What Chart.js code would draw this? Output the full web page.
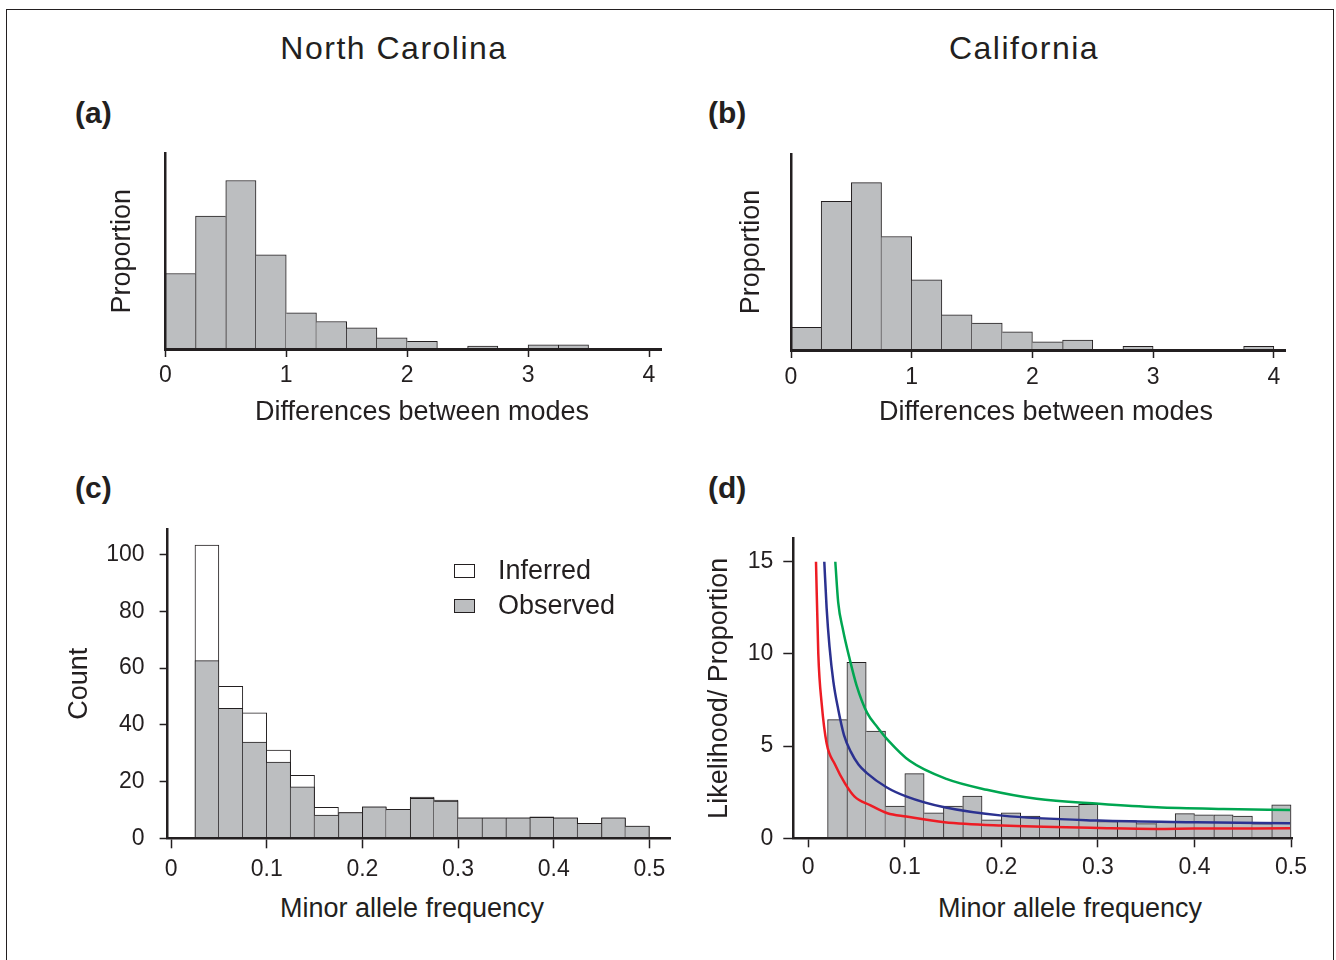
<!DOCTYPE html>
<html>
<head>
<meta charset="utf-8">
<script src="https://cdn.jsdelivr.net/npm/chart.js@4.4.1/dist/chart.umd.min.js"></script>
<style>
  html, body { margin: 0; padding: 0; background: #fff; overflow: hidden; }
  body { width: 1336px; height: 960px; position: relative; font-family: "Liberation Sans", Arial, sans-serif; color: #231f20; }
  .frame { position: absolute; left: 6px; top: 9px; width: 1326px; height: 1000px; border: 1px solid #231f20; }
  .txt { position: absolute; white-space: nowrap; line-height: 1; transform: translate(-50%, -50%); }
  .state { font-size: 32px; letter-spacing: 1.5px; }
  .tag { font-size: 30px; font-weight: bold; transform: translate(0, -50%); }
  .xlab { font-size: 27px; }
  canvas { position: absolute; }
</style>
</head>
<body>
<div class="frame"></div>

<div class="txt state" style="left:394px;top:48px">North Carolina</div>
<div class="txt state" style="left:1024px;top:48px">California</div>
<div class="txt tag" style="left:75px;top:113px">(a)</div>
<div class="txt tag" style="left:708px;top:113px">(b)</div>
<div class="txt tag" style="left:75px;top:488px">(c)</div>
<div class="txt tag" style="left:708px;top:488px">(d)</div>

<canvas id="chartA" width="640" height="260" style="left:40px;top:140px"></canvas>
<canvas id="chartB" width="630" height="260" style="left:690px;top:140px"></canvas>
<canvas id="chartC" width="640" height="380" style="left:40px;top:510px"></canvas>
<canvas id="chartD" width="630" height="380" style="left:690px;top:510px"></canvas>

<div class="txt xlab" style="left:422px;top:411px">Differences between modes</div>
<div class="txt xlab" style="left:1046px;top:411px">Differences between modes</div>
<div class="txt xlab" style="left:412px;top:908px">Minor allele frequency</div>
<div class="txt xlab" style="left:1070px;top:908px">Minor allele frequency</div>

<script>
const INK = '#231f20';
const BAR_GRAY = '#bcbec0';
const FONT = '"Liberation Sans", Arial, Helvetica, sans-serif';
const TICK_SIZE = 23;

// (a) / (b): differences between modes, bins of width 0.25 (centres)
const modeBins = [0.125, 0.375, 0.625, 0.875, 1.125, 1.375, 1.625, 1.875,
                  2.125, 2.375, 2.625, 2.875, 3.125, 3.375, 3.625, 3.875];
const propNC = [0.129, 0.227, 0.288, 0.161, 0.062, 0.047, 0.036, 0.019,
                0.013, 0, 0.005, 0, 0.007, 0.007, 0, 0];
const propCA = [0.036, 0.237, 0.267, 0.181, 0.112, 0.056, 0.043, 0.029,
                0.013, 0.016, 0, 0.006, 0, 0, 0, 0.006];
const modeTicks = [0, 1, 2, 3, 4];
const modeTickLabels = ['0', '1', '2', '3', '4'];

// (c): minor allele frequency counts, North Carolina, bins of width 0.025
const mafBinsNC = [0.0375, 0.0625, 0.0875, 0.1125, 0.1375, 0.1625, 0.1875, 0.2125,
                   0.2375, 0.2625, 0.2875, 0.3125, 0.3375, 0.3625, 0.3875, 0.4125,
                   0.4375, 0.4625, 0.4875];
const observedNC = [62.6, 45.8, 33.9, 26.9, 18.1, 8.2, 9.1, 11.1, 10.2, 14.1,
                    13.1, 7.2, 7.2, 7.2, 7.4, 7.2, 5.3, 7.2, 4.3];
const inferredNC = [103.3, 53.6, 44.2, 31.1, 22.2, 10.9, 9.1, 11.1, 10.2, 14.5,
                    13.5, 7.2, 7.2, 7.2, 7.6, 7.2, 5.3, 7.2, 4.3];
const countTicks = [0, 20, 40, 60, 80, 100];
const countTickLabels = ['0', '20', '40', '60', '80', '100'];

// (d): California, proportion per bin of width 0.02 plus likelihood curves
const mafBinsCA = [0.03, 0.05, 0.07, 0.09, 0.11, 0.13, 0.15, 0.17, 0.19, 0.21, 0.23, 0.25,
                   0.27, 0.29, 0.31, 0.33, 0.35, 0.37, 0.39, 0.41, 0.43, 0.45, 0.47, 0.49];
const propMafCA = [6.44, 9.55, 5.82, 1.75, 3.51, 1.38, 1.75, 2.29, 1.0, 1.38, 1.2, 1.09,
                   1.75, 1.84, 0.91, 0.96, 0.8, 0.86, 1.34, 1.27, 1.27, 1.2, 0.8, 1.82];
const curveGreen = [[0.028, 15], [0.031, 12.8], [0.036, 11.3], [0.043, 9.7], [0.05, 8.3],
                    [0.061, 6.8], [0.072, 6.0], [0.083, 5.3], [0.105, 4.2], [0.143, 3.22],
                    [0.185, 2.63], [0.2365, 2.14], [0.301, 1.87], [0.361, 1.68], [0.43, 1.59],
                    [0.499, 1.54]];
const curveBlue = [[0.0166, 15], [0.019, 12.5], [0.022, 10.4], [0.026, 8.5], [0.031, 7.0],
                   [0.037, 5.6], [0.044, 4.7], [0.052, 4.0], [0.0604, 3.55], [0.081, 2.77],
                   [0.102, 2.26], [0.141, 1.68], [0.201, 1.23], [0.301, 0.96], [0.402, 0.87],
                   [0.499, 0.82]];
const curveRed = [[0.008, 15], [0.0104, 10.0], [0.0139, 7.3], [0.019, 5.15], [0.0277, 4.0],
                  [0.038, 2.98], [0.048, 2.26], [0.064, 1.8], [0.082, 1.36], [0.1015, 1.18],
                  [0.141, 0.87], [0.201, 0.69], [0.301, 0.56], [0.36, 0.51], [0.40, 0.53],
                  [0.499, 0.54]];
const likeTicks = [0, 5, 10, 15];
const likeTickLabels = ['0', '5', '10', '15'];
const mafTicks = [0, 0.1, 0.2, 0.3, 0.4, 0.5];
const mafTickLabels = ['0', '0.1', '0.2', '0.3', '0.4', '0.5'];

// histogram outline: one line per shared edge, drawn by the taller bar
function edgeBorders(values) {
  return (c) => {
    const i = c.dataIndex, v = values[i], prev = values[i - 1], next = values[i + 1];
    return {
      top: 1, bottom: 0,
      left: prev === undefined || prev <= v ? 1 : 0,
      right: next === undefined || next < v ? 1 : 0
    };
  };
}

function zeroPadding(s) {
  s.paddingLeft = 0; s.paddingRight = 0; s.paddingTop = 0; s.paddingBottom = 0;
}

function xScale(o) {
  return {
    type: 'linear', position: 'bottom', min: o.min, max: o.max, offset: false,
    afterBuildTicks: (s) => { s.ticks = o.ticks.map(v => ({ value: v })); },
    afterFit: (s) => { s.height = o.height; zeroPadding(s); },
    ticks: {
      autoSkip: false, maxRotation: 0, padding: o.pad, color: INK, z: 2,
      font: { family: FONT, size: TICK_SIZE },
      callback: (v, i) => o.labels[i]
    },
    grid: { display: true, drawOnChartArea: false, offset: false, tickLength: o.tickLen,
            tickWidth: 1.5, tickColor: INK, z: 2 },
    border: { display: true, color: INK, width: o.lineW, z: 2 }
  };
}

function yScale(o) {
  const s = {
    type: 'linear', position: 'left', min: 0, max: o.max,
    afterFit: (sc) => { sc.width = o.width; zeroPadding(sc); },
    title: {
      display: true, text: o.title, color: INK,
      font: { family: FONT, size: 27 }, padding: { top: o.titlePad, bottom: 0 }
    },
    border: { display: true, color: INK, width: 2.5, z: 2 }
  };
  if (o.ticks) {
    s.afterBuildTicks = (sc) => { sc.ticks = o.ticks.map(v => ({ value: v })); };
    s.ticks = { padding: o.pad, color: INK, z: 2, font: { family: FONT, size: TICK_SIZE },
                callback: (v, i) => o.labels[i] };
    s.grid = { display: true, drawOnChartArea: false, tickLength: o.tickLen, tickWidth: 1.5,
               tickColor: INK, z: 2 };
  } else {
    s.ticks = { display: false };
    s.grid = { display: false };
  }
  return s;
}

function baseOptions(padding, scales, extraPlugins) {
  return {
    responsive: false,
    animation: false,
    events: [],
    layout: { padding },
    scales,
    plugins: Object.assign({ legend: { display: false }, tooltip: { enabled: false } }, extraPlugins || {})
  };
}

function histDataset(label, bins, values, fill, order) {
  return {
    type: 'bar', label, order,
    data: bins.map((b, i) => ({ x: b, y: values[i] })),
    backgroundColor: fill,
    borderColor: INK,
    borderWidth: edgeBorders(values),
    borderSkipped: 'start',
    barPercentage: 1, categoryPercentage: 1, grouped: false
  };
}

// boxes-and-labels legend drawn inside the plot area of (c)
const boxLegend = {
  id: 'boxLegend',
  afterDatasetsDraw(chart, args, opts) {
    if (!opts.items) return;
    const ctx = chart.ctx;
    ctx.save();
    ctx.font = '27px ' + FONT;
    ctx.textBaseline = 'middle';
    ctx.textAlign = 'left';
    opts.items.forEach((dsIndex, row) => {
      const ds = chart.data.datasets[dsIndex];
      const y = opts.y + row * opts.rowGap;
      ctx.fillStyle = ds.backgroundColor;
      ctx.fillRect(opts.x, y, opts.boxW, opts.boxH);
      ctx.strokeStyle = INK;
      ctx.lineWidth = 1;
      ctx.strokeRect(opts.x + 0.5, y + 0.5, opts.boxW - 1, opts.boxH - 1);
      ctx.fillStyle = INK;
      ctx.fillText(ds.label, opts.textX, y + opts.boxH / 2 + 0.5);
    });
    ctx.restore();
  }
};

// (a) North Carolina
new Chart(document.getElementById('chartA'), {
  type: 'bar',
  data: { datasets: [histDataset('Proportion', modeBins, propNC, BAR_GRAY, 0)] },
  options: baseOptions({ top: 13.3, right: 18.9, bottom: 0, left: 0 }, {
    x: xScale({ min: 0, max: 4.1, ticks: modeTicks, labels: modeTickLabels, height: 51, pad: 4.4, tickLen: 8, lineW: 3 }),
    y: yScale({ max: 0.3345, width: 125.3, title: 'Proportion', titlePad: 66.8 })
  })
});

// (b) California
new Chart(document.getElementById('chartB'), {
  type: 'bar',
  data: { datasets: [histDataset('Proportion', modeBins, propCA, BAR_GRAY, 0)] },
  options: baseOptions({ top: 14, right: 34.1, bottom: 0, left: 0 }, {
    x: xScale({ min: 0, max: 4.1, ticks: modeTicks, labels: modeTickLabels, height: 50, pad: 5.4, tickLen: 8, lineW: 3 }),
    y: yScale({ max: 0.3126, width: 101, title: 'Proportion', titlePad: 45.8 })
  })
});

// (c) North Carolina, observed vs inferred counts
new Chart(document.getElementById('chartC'), {
  type: 'bar',
  data: {
    datasets: [
      histDataset('Observed', mafBinsNC, observedNC, BAR_GRAY, 0),
      histDataset('Inferred', mafBinsNC, inferredNC, '#ffffff', 1)
    ]
  },
  options: baseOptions({ top: 19.3, right: 9.4, bottom: 0, left: 0 }, {
    x: xScale({ min: -0.0036, max: 0.5222, ticks: mafTicks, labels: mafTickLabels, height: 51.7, pad: 7.4, tickLen: 10, lineW: 2.5 }),
    y: yScale({ max: 108.9, width: 127.6, title: 'Count', titlePad: 23.8,
                ticks: countTicks, labels: countTickLabels, pad: 15, tickLen: 8 })
  }, {
    boxLegend: { items: [1, 0], x: 414, y: 54, boxW: 21, boxH: 14, rowGap: 35, textX: 458 }
  }),
  plugins: [boxLegend]
});

// (d) California, proportion with likelihood curves
function curveDataset(label, pts, color) {
  return {
    type: 'line', label, order: 0,
    data: pts.map(p => ({ x: p[0], y: p[1] })),
    borderColor: color, borderWidth: 2.5, pointRadius: 0,
    cubicInterpolationMode: 'monotone', fill: false
  };
}

new Chart(document.getElementById('chartD'), {
  type: 'bar',
  data: {
    datasets: [
      histDataset('Proportion', mafBinsCA, propMafCA, BAR_GRAY, 1),
      curveDataset('Green', curveGreen, '#00a651'),
      curveDataset('Blue', curveBlue, '#2b3190'),
      curveDataset('Red', curveRed, '#ed1c24')
    ]
  },
  options: baseOptions({ top: 28.3, right: 28, bottom: 0, left: 0 }, {
    x: xScale({ min: -0.0155, max: 0.501, ticks: mafTicks, labels: mafTickLabels, height: 51.7, pad: 6.9, tickLen: 9, lineW: 2.5 }),
    y: yScale({ max: 16.27, width: 103.3, title: 'Likelihood/ Proportion', titlePad: 13.8,
                ticks: likeTicks, labels: likeTickLabels, pad: 10, tickLen: 10 })
  })
});
</script>
</body>
</html>
